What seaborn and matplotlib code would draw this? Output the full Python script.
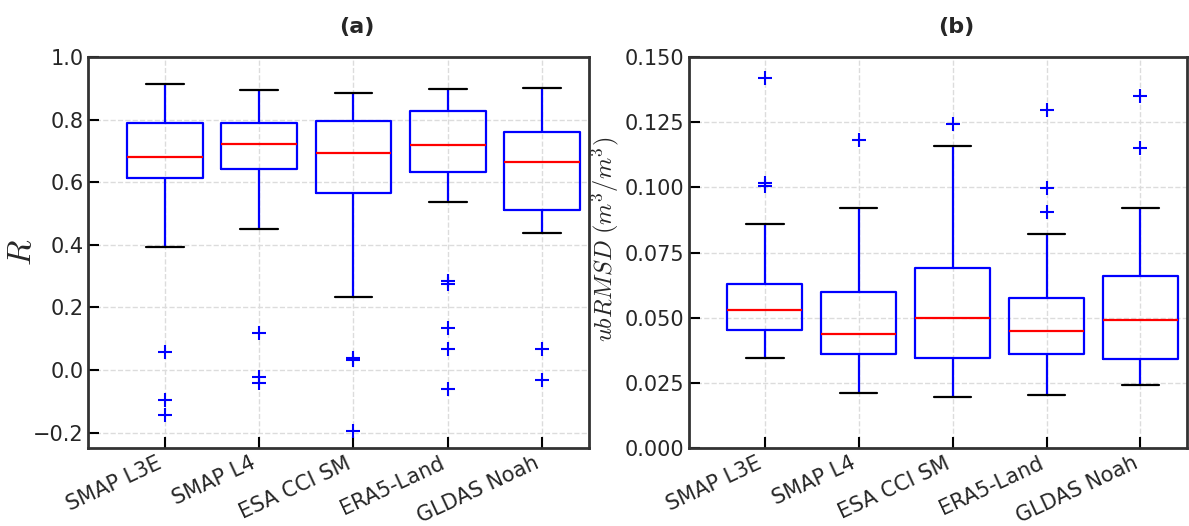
import numpy as np
import pandas as pd
import matplotlib
matplotlib.use("Agg")
import matplotlib.pyplot as plt
import matplotlib.transforms as mtransforms
import seaborn as sns

# Products evaluated against the in-situ network
products = ["SMAP L3E", "SMAP L4", "ESA CCI SM", "ERA5-Land", "GLDAS Noah"]

# Correlation coefficient R at each station (25 stations per product)
r_smap_l3e = [-0.142, -0.095, 0.058, 0.392, 0.480, 0.560, 0.612, 0.630, 0.645,
              0.655, 0.665, 0.672, 0.681, 0.700, 0.720, 0.740, 0.760, 0.775,
              0.789, 0.800, 0.820, 0.845, 0.870, 0.890, 0.915]
r_smap_l4 = [-0.042, -0.022, 0.119, 0.450, 0.520, 0.600, 0.641, 0.660, 0.675,
             0.690, 0.700, 0.710, 0.722, 0.730, 0.745, 0.755, 0.765, 0.775,
             0.788, 0.800, 0.820, 0.840, 0.860, 0.880, 0.895]
r_esa_cci = [-0.194, 0.032, 0.037, 0.232, 0.400, 0.500, 0.566, 0.590, 0.620,
             0.645, 0.665, 0.680, 0.694, 0.710, 0.730, 0.750, 0.765, 0.780,
             0.796, 0.810, 0.825, 0.840, 0.855, 0.870, 0.884]
r_era5_land = [-0.060, 0.068, 0.133, 0.276, 0.283, 0.538, 0.633, 0.650, 0.665,
               0.680, 0.695, 0.705, 0.718, 0.735, 0.755, 0.775, 0.795, 0.810,
               0.829, 0.840, 0.850, 0.860, 0.875, 0.885, 0.898]
r_gldas = [-0.031, 0.068, 0.437, 0.460, 0.480, 0.500, 0.511, 0.540, 0.570,
           0.600, 0.625, 0.645, 0.665, 0.680, 0.700, 0.715, 0.730, 0.745,
           0.760, 0.780, 0.800, 0.830, 0.855, 0.880, 0.901]

# Unbiased RMSD (m3/m3) at each station
u_smap_l3e = [0.0347, 0.0370, 0.0390, 0.0410, 0.0430, 0.0440, 0.0452, 0.0470,
              0.0480, 0.0495, 0.0510, 0.0520, 0.0532, 0.0550, 0.0570, 0.0590,
              0.0600, 0.0615, 0.0628, 0.0660, 0.0720, 0.0860, 0.1005, 0.1018,
              0.1418]
u_smap_l4 = [0.0213, 0.0250, 0.0280, 0.0310, 0.0330, 0.0350, 0.0360, 0.0370,
             0.0390, 0.0400, 0.0410, 0.0425, 0.0439, 0.0460, 0.0490, 0.0520,
             0.0550, 0.0580, 0.0599, 0.0630, 0.0680, 0.0740, 0.0820, 0.0921,
             0.1180]
u_esa_cci = [0.0198, 0.0220, 0.0250, 0.0280, 0.0310, 0.0330, 0.0345, 0.0370,
             0.0400, 0.0430, 0.0460, 0.0480, 0.0499, 0.0520, 0.0550, 0.0580,
             0.0620, 0.0660, 0.0693, 0.0740, 0.0800, 0.0880, 0.0980, 0.1159,
             0.1242]
u_era5_land = [0.0204, 0.0240, 0.0270, 0.0300, 0.0330, 0.0350, 0.0360, 0.0380,
               0.0400, 0.0410, 0.0420, 0.0435, 0.0449, 0.0470, 0.0490, 0.0510,
               0.0530, 0.0555, 0.0577, 0.0630, 0.0700, 0.0823, 0.0905, 0.0998,
               0.1296]
u_gldas = [0.0241, 0.0260, 0.0280, 0.0300, 0.0320, 0.0330, 0.0342, 0.0370,
           0.0400, 0.0430, 0.0460, 0.0480, 0.0491, 0.0520, 0.0550, 0.0580,
           0.0610, 0.0640, 0.0661, 0.0700, 0.0760, 0.0840, 0.0921, 0.1151,
           0.1352]

r_values = [r_smap_l3e, r_smap_l4, r_esa_cci, r_era5_land, r_gldas]
u_values = [u_smap_l3e, u_smap_l4, u_esa_cci, u_era5_land, u_gldas]

df = pd.DataFrame({
    "product": np.concatenate([[p] * len(v) for p, v in zip(products, r_values)]),
    "R": np.concatenate(r_values),
    "ubRMSD": np.concatenate(u_values),
})

sns.set_theme(style="ticks")
plt.rcParams["font.family"] = ["DejaVu Sans"]
plt.rcParams["mathtext.fontset"] = "cm"

fig = plt.figure(figsize=(11.89, 5.26), dpi=100)
ax_a = fig.add_axes([0.0743, 0.1477, 0.4214, 0.7439])
ax_b = fig.add_axes([0.5792, 0.1477, 0.4195, 0.7439])

box_kw = dict(
    width=0.8,
    fill=False,
    color="blue",
    linewidth=1.6,
    whis=1.5,
    flierprops=dict(marker="+", markeredgecolor="blue", markersize=10,
                    markeredgewidth=1.5),
    capprops=dict(color="black", linewidth=1.6),
    medianprops=dict(color="red", linewidth=1.6),
)

sns.boxplot(data=df, x="product", y="R", order=products, ax=ax_a, **box_kw)
sns.boxplot(data=df, x="product", y="ubRMSD", order=products, ax=ax_b, **box_kw)

for ax, title in [(ax_a, "(a)"), (ax_b, "(b)")]:
    ax.set_xlim(-0.81, 4.5)
    ax.set_xlabel("")
    ax.set_axisbelow(True)
    ax.grid(True, linestyle="--", color="#dcdcdc", linewidth=1.0)
    for sp in ax.spines.values():
        sp.set_visible(True)
        sp.set_color("#333333")
        sp.set_linewidth(2.0)
    ax.tick_params(axis="both", direction="in", length=8, width=1.5,
                   color="black", labelsize=15, labelcolor="#262626",
                   top=False, right=False)
    plt.setp(ax.get_xticklabels(), rotation=25, ha="right")
    trans = mtransforms.blended_transform_factory(ax.transData, ax.transAxes)
    ax.text(2.04, 1.077, title, transform=trans, ha="center", va="center",
            fontsize=16, fontweight="bold", color="#262626")

ax_a.set_ylim(-0.25, 1.0)
ax_a.set_yticks([-0.2, 0.0, 0.2, 0.4, 0.6, 0.8, 1.0])
ax_a.set_ylabel(r"$R$", fontsize=24)
ax_a.yaxis.set_label_coords(-0.100, 0.5)

ax_b.set_ylim(0.0, 0.15)
ax_b.set_yticks([0.0, 0.025, 0.05, 0.075, 0.1, 0.125, 0.15])
ax_b.set_ylabel(r"$ubRMSD\ (m^3/m^3)$", fontsize=17.5)
ax_b.yaxis.set_label_coords(-0.136, 0.535)

fig.savefig("out.png", dpi=100)
